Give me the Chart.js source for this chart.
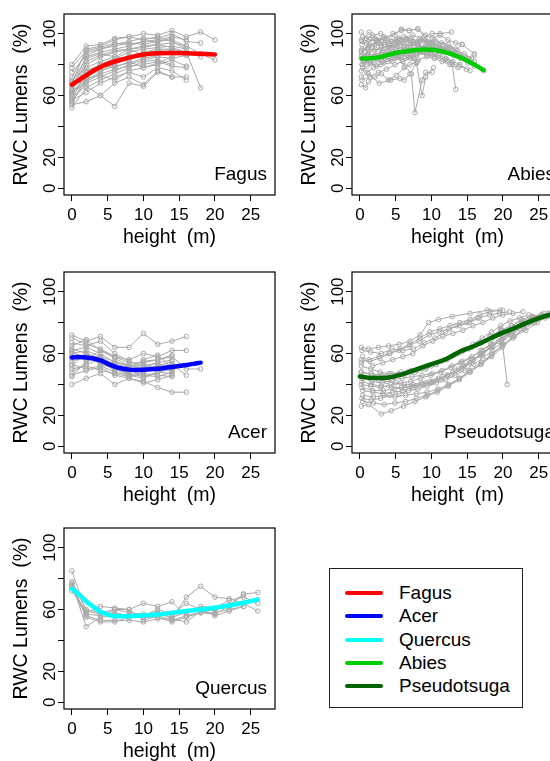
<!DOCTYPE html>
<html>
<head>
<meta charset="utf-8">
<script src="https://cdn.jsdelivr.net/npm/chart.js@4.4.1/dist/chart.umd.min.js"></script>
<style>
  html, body { margin: 0; padding: 0; background: #fff; }
  #page { position: relative; width: 550px; height: 761px; overflow: hidden; }
  #page canvas { position: absolute; }
  #legend {
    position: absolute; left: 329px; top: 568px; width: 194px; height: 140px;
    border: 1px solid #222; box-sizing: border-box;
    font-family: "Liberation Sans", Arial, sans-serif; font-size: 19px; color: #000;
  }
  .row { position: absolute; left: 0; height: 24px; line-height: 24px; white-space: nowrap; }
  .row .swatch { position: absolute; left: 15px; top: 10px; width: 38px; height: 4px; border-radius: 2px; }
  .row .name { position: absolute; left: 69px; }
</style>
</head>
<body>
<div id="page">
  <canvas id="fagus" width="288" height="258" style="left:0;top:0"></canvas>
  <canvas id="abies" width="288" height="258" style="left:288px;top:0"></canvas>
  <canvas id="acer" width="288" height="258" style="left:0;top:258px"></canvas>
  <canvas id="pseudotsuga" width="288" height="258" style="left:288px;top:258px"></canvas>
  <canvas id="quercus" width="288" height="258" style="left:0;top:514px"></canvas>
  <div id="legend"></div>
</div>
<script>
// shared axis ticks
const xTicks = [0, 5, 10, 15, 20, 25];
const yTicks = [0, 20, 40, 60, 80, 100];
const yTickLabels = ['0', '20', '', '60', '', '100'];

const legendNames = ['Fagus', 'Acer', 'Quercus', 'Abies', 'Pseudotsuga'];
const legendColors = ['#FF0000', '#0000FF', '#00FFFF', '#00CD00', '#006400'];

// Fagus: one profile per tree, sampled every 2 m
const fagusHeights = [0, 2, 4, 6, 8, 10, 12, 14, 16, 18, 20];
const fagusTrees = [
  [68, 90, 92, 96, 98, 100, 99, 102, 98, 101, 96],
  [72, 88, 90, 93, 95, 97, 97, 100, 95, 94],
  [65, 85, 88, 90, 92, 95, 95, 96, 92, 87, 83],
  [80, 92, 93, 97, 98, 96, 98, 95, 90],
  [62, 80, 85, 88, 90, 92, 93, 91, 88, 85],
  [58, 75, 80, 84, 88, 90, 91, 92, 90],
  [55, 72, 78, 80, 85, 88, 90, 90, 88, 65],
  [60, 70, 75, 82, 86, 85, 88, 89, 86],
  [52, 65, 70, 74, 78, 82, 83, 80],
  [64, 82, 86, 89, 90, 86, 88, 87, 87],
  [70, 78, 82, 85, 83, 87, 89, 90],
  [57, 62, 68, 72, 75, 72, 78, 76, 70],
  [54, 56, 60, 53, 68, 66, 75, 72, 72],
  [67, 76, 80, 78, 82, 78, 80, 83, 79],
  [75, 86, 90, 92, 94, 93, 95, 97],
  [63, 68, 72, 76, 80, 83, 85, 84, 86],
  [61, 73, 76, 79, 81, 84, 86, 88],
  [59, 66, 60, 68, 72, 67, 76, 72],
  [69, 84, 87, 85, 90, 91, 93, 94, 92],
  [78, 89, 91, 94, 93, 95, 96, 98, 96],
  [56, 69, 74, 77, 79, 80, 82, 79, 78],
  [62, 71, 73, 70, 76, 78, 81, 85]
];
const fagusFitH = [0, 1, 2, 3, 4, 5, 6, 7, 8, 9, 10, 12, 14, 16, 18, 20];
const fagusFitV = [67, 70, 73, 76, 78.5, 80.5, 82, 83.3, 84.5, 85.6, 86.5, 87.3, 87.5, 87.4, 87, 86.5];

// Abies: irregular sampling heights per tree
const abiesHeights = [
  [0.2, 1.1, 2.0, 3.0, 4.1, 5.0, 6.0, 7.0, 8.1, 9.0, 10.1, 11.0, 12.0, 13.0, 14.1, 15.0, 16.0, 17.3],
  [0.2, 0.9, 1.8, 2.9, 3.8, 4.9, 5.8, 6.9, 8.1, 9.0, 10.1, 11.2, 12.8],
  [0.3, 1.3, 2.3, 3.3, 4.4, 5.4, 6.4, 7.4, 8.4, 9.4, 10.4, 11.4, 12.4, 13.4, 14.3, 16.0],
  [0.2, 0.8, 1.2, 2.1, 3.0, 4.0, 5.1, 6.2, 7.0, 8.0],
  [0.4, 1.2, 2.7, 4.3, 5.6, 6.2, 7.0, 7.9],
  [0.3, 1.0, 2.0, 3.1, 4.2, 5.2, 6.3, 7.2, 7.7, 8.7, 9.2, 10.1],
  [0.2, 1.1, 2.2, 3.1, 4.0, 5.1, 6.1, 7.1, 7.9, 8.7, 9.2, 10.3],
  [0.5, 1.5, 2.5, 3.5, 4.5, 5.5, 6.5, 7.5, 8.5, 9.5, 10.5, 11.5, 12.2, 12.9, 13.4],
  [0.3, 1.3, 2.4, 3.4, 4.5, 5.5, 6.5, 7.5, 8.6, 9.6, 10.6, 11.6, 12.6, 13.6, 14.6, 15.6],
  [0.2, 1.0, 2.0, 3.0, 4.0, 5.0, 6.0, 7.0, 8.0, 9.0, 10.0, 11.0, 12.0, 13.0, 14.0, 15.4],
  [0.4, 1.4, 2.4, 3.5, 4.6, 5.8, 6.9, 8.1, 9.2, 10.1, 11.2, 12.3, 13.4, 14.3],
  [0.3, 1.2, 2.2, 3.2, 4.2, 5.2, 6.2, 7.2, 8.2, 9.2, 10.2, 11.2, 12.2, 13.2, 14.2, 15.2, 16.0],
  [0.2, 1.0, 1.9, 2.9, 3.9, 4.9, 5.9, 6.9, 7.9, 8.9, 9.9, 10.9, 11.9, 12.9, 13.9, 14.9],
  [0.3, 1.2, 2.1, 3.1, 4.1, 5.1, 6.1, 7.1, 8.1, 9.1, 10.1, 11.1, 12.1],
  [0.2, 1.1, 2.0, 3.0, 4.0, 5.0, 6.1, 7.1, 8.1, 9.1, 10.1, 11.1, 12.1, 13.1, 14.1, 15.1, 16.0],
  [0.4, 1.3, 2.3, 3.3, 4.3, 5.3, 6.3, 7.3, 8.3, 9.3],
  [0.2, 0.9, 1.7, 2.6, 3.5, 4.4, 5.3, 6.2, 7.1, 8.0, 8.9, 9.8, 10.7, 11.6, 12.5],
  [0.3, 1.4, 2.6, 3.7, 4.9, 6.0, 7.1, 8.2, 9.3, 10.4, 11.5, 12.6, 13.7],
  [0.2, 1.1, 2.1, 3.0, 3.9, 4.8, 5.7, 6.6, 7.5, 8.4, 9.3, 10.2, 11.1, 12.0, 12.9, 13.8, 14.7, 15.6],
  [0.5, 1.5, 2.5, 3.5, 4.5, 5.5, 6.5, 7.5, 8.5, 9.5, 10.5]
];
const abiesValues = [
  [88, 90, 89, 91, 92, 93, 94, 92, 93, 91, 92, 90, 89, 87, 86, 84, 82, 76],
  [101, 97, 99, 100, 97, 99, 103, 102, 103, 98, 100, 100, 101],
  [95, 101, 96, 98, 95, 97, 96, 99, 97, 95, 96, 94, 93, 90, 93, 87],
  [67, 65, 69, 72, 74, 70, 73, 78, 80, 82],
  [78, 74, 68, 70, 71, 70, 74, 81],
  [80, 83, 85, 82, 84, 86, 79, 74, 49, 70, 75, 75],
  [85, 87, 86, 88, 87, 89, 88, 86, 81, 60, 72, 78],
  [82, 84, 86, 85, 87, 88, 87, 89, 90, 88, 87, 85, 83, 80, 64],
  [90, 92, 94, 93, 95, 96, 97, 95, 96, 94, 95, 93, 91, 89, 87, 84],
  [76, 79, 81, 83, 85, 86, 87, 88, 87, 89, 88, 86, 84, 82, 80, 76],
  [98, 96, 95, 97, 100, 102, 102, 103, 99, 97, 99, 96, 94, 93],
  [86, 88, 90, 89, 91, 92, 90, 93, 92, 91, 93, 91, 90, 88, 85, 83, 86],
  [72, 75, 78, 80, 82, 84, 83, 85, 86, 88, 87, 85, 83, 81, 79, 77],
  [93, 95, 97, 96, 94, 96, 98, 97, 95, 96, 94, 92, 91],
  [84, 86, 85, 87, 89, 90, 91, 90, 92, 91, 90, 89, 88, 86, 84, 81, 79],
  [80, 82, 79, 81, 83, 85, 84, 86, 88, 87],
  [96, 94, 92, 95, 93, 91, 94, 92, 95, 93, 91, 94, 92, 90, 91],
  [70, 72, 75, 77, 80, 82, 84, 83, 85, 84, 82, 80, 78],
  [89, 91, 93, 92, 91, 93, 94, 96, 94, 95, 93, 92, 90, 91, 89, 87, 85, 82],
  [83, 81, 84, 86, 82, 85, 87, 84, 88, 86, 85]
];
const abiesFitH = [0.3, 1, 2, 3, 4, 5, 6, 7, 8, 9, 10, 11, 12, 13, 14, 15, 16, 17, 17.3];
const abiesFitV = [84, 84, 84.3, 85, 86.3, 87.5, 88.3, 89, 89.5, 89.7, 89.6, 89, 88, 86.5, 84.7, 82.5, 80, 77.3, 76.5];

// Acer: sampled every 2 m
const acerHeights = [0, 2, 4, 6, 8, 10, 12, 14, 16, 18];
const acerTrees = [
  [72, 68, 71, 64, 64, 73, 66, 68, 71],
  [65, 69, 62, 58, 56, 60, 58, 62, 62],
  [60, 62, 58, 55, 52, 55, 56, 58, 50, 50],
  [55, 58, 55, 50, 48, 50, 52, 53, 46],
  [62, 64, 60, 54, 52, 50, 52, 55],
  [48, 53, 56, 50, 47, 45, 48, 50],
  [45, 55, 58, 52, 49, 46, 45, 48],
  [40, 44, 47, 40, 44, 42, 38, 35, 35],
  [52, 60, 54, 50, 46, 48, 50, 52],
  [58, 56, 62, 57, 52, 51, 54, 50],
  [67, 65, 68, 60, 55, 52, 54, 56],
  [50, 52, 49, 47, 45, 47, 46, 45],
  [63, 60, 57, 53, 51, 53, 50, 49],
  [57, 59, 53, 50, 50, 49, 51, 53],
  [70, 66, 63, 58, 54, 54, 56, 59],
  [53, 50, 52, 48, 46, 44, 48, 47],
  [46, 49, 51, 46, 44, 41, 43, 46],
  [61, 57, 55, 49, 50, 56, 59, 51]
];
const acerFitH = [0, 1, 2, 3, 4, 5, 6, 7, 8, 9, 10, 11, 12, 13, 14, 15, 16, 17, 18];
const acerFitV = [57.5, 57.8, 57.5, 56.8, 55.5, 53.5, 51.5, 50.3, 49.6, 49.4, 49.5, 49.8, 50.2, 50.7, 51.3, 51.9, 52.6, 53.3, 54.1];

// Pseudotsuga: irregular sampling heights per tree
const pseudoHeights = [
  [0.2, 1.2, 2.6, 4.0, 5.5, 7.0, 8.4, 9.6, 11.0, 12.9, 15.4, 17.8, 20.0],
  [0.3, 1.5, 3.0, 4.5, 6.0, 7.5, 9.0, 10.5, 12.0, 13.5, 15.0, 16.5],
  [0.2, 1.4, 2.8, 4.2, 5.6, 7.0, 8.4, 9.8, 11.2, 12.6, 14.0, 15.4, 16.8, 18.2, 19.6],
  [0.4, 1.8, 3.2, 4.6, 6.0, 7.4, 8.8, 10.2, 11.6, 13.0, 14.4, 15.8, 17.2, 18.6, 20.0, 21.4, 22.8],
  [0.2, 1.6, 3.0, 4.4, 5.8, 7.2, 8.6, 10.0, 11.4, 12.8, 14.2, 15.6, 17.0, 18.4, 19.8, 21.2, 22.6, 24.0, 25.4, 26.8],
  [0.3, 1.7, 3.1, 4.5, 5.9, 7.3, 8.7, 10.1, 11.5, 12.9, 14.3, 15.7, 17.1, 18.5, 19.9, 21.3, 22.7, 24.1, 25.5, 26.9],
  [0.2, 1.5, 2.9, 4.3, 5.7, 7.1, 8.5, 9.9, 11.3, 12.7, 14.1, 15.5, 16.9, 18.3, 19.7, 20.6],
  [0.4, 1.8, 3.2, 4.6, 6.0, 7.4, 8.8, 10.2, 11.6, 13.0, 14.4, 15.8, 17.2, 18.6, 20.0, 21.4, 22.8, 24.2, 25.6],
  [0.2, 1.2, 3.0, 4.4, 6.1, 7.7, 9.2, 10.8, 12.3, 13.9, 15.4, 17.0, 18.5, 20.1, 21.6, 23.2, 24.8, 26.3],
  [0.3, 1.6, 2.9, 4.2, 5.5, 6.8, 8.1, 9.4, 10.7, 12.0, 13.3, 14.6, 15.9, 17.2, 18.5, 19.8, 21.1, 22.4, 23.7, 25.0, 26.3, 27.5],
  [0.2, 1.5, 2.8, 4.1, 5.4, 6.7, 8.0, 9.3, 10.6, 11.9, 13.2, 14.5, 15.8, 17.1, 18.4, 19.7, 21.0, 22.3, 23.6],
  [0.3, 1.8, 3.3, 4.8, 6.3, 7.8, 9.3, 10.8, 12.3, 13.8, 15.3, 16.8, 18.3, 19.8, 21.3, 22.8, 24.3],
  [0.2, 1.4, 2.6, 3.8, 5.0, 6.2, 7.4, 8.6, 9.8, 11.0, 12.2, 13.4, 14.6, 15.8, 17.0, 18.2, 19.4, 20.6, 21.8, 23.0, 24.2, 25.4, 26.6],
  [0.4, 1.9, 3.4, 4.9, 6.4, 7.9, 9.4, 10.9, 12.4, 13.9, 15.4, 16.9, 18.4, 19.9, 21.4, 22.9, 24.4, 25.9, 27.4],
  [0.2, 1.3, 2.7, 4.1, 5.5, 6.9, 8.3, 9.7, 11.1, 12.5, 13.9, 15.3, 16.7, 18.1, 19.5, 20.9],
  [0.3, 1.6, 3.0, 4.4, 5.8, 7.2, 8.6, 10.0, 11.4, 12.8, 14.2, 15.6, 17.0, 18.4, 19.8, 21.2, 22.6, 24.0, 25.4, 26.8],
  [0.2, 1.7, 3.2, 4.7, 6.2, 7.7, 9.2, 10.7, 12.2, 13.7, 15.2, 16.7, 18.2, 19.7, 21.2, 22.7, 24.2, 25.7],
  [0.4, 1.9, 3.4, 4.9, 6.4, 7.9, 9.4, 10.9, 12.4, 13.9, 15.4, 16.9, 18.4, 19.9, 21.4, 22.9, 24.4, 25.9, 27.4]
];
const pseudoValues = [
  [64, 63, 64, 65, 66, 68, 72, 80, 82, 84, 86, 88, 88],
  [62, 61, 60, 63, 62, 63, 67, 70, 74, 78, 80, 83],
  [56, 55, 57, 60, 63, 66, 70, 74, 76, 78, 80, 82, 85, 87, 88],
  [58, 52, 54, 56, 58, 60, 65, 68, 71, 73, 75, 78, 80, 83, 85, 86, 87],
  [48, 47, 46, 47, 48, 49, 50, 52, 55, 58, 61, 64, 67, 71, 75, 78, 82, 84, 85, 86],
  [44, 42, 41, 43, 44, 45, 46, 47, 49, 52, 55, 58, 62, 66, 70, 75, 80, 83, 85, 87],
  [40, 39, 38, 40, 41, 42, 44, 46, 48, 51, 54, 57, 62, 66, 76, 40],
  [36, 35, 34, 35, 36, 38, 40, 42, 45, 48, 52, 56, 60, 65, 70, 74, 78, 82, 84],
  [26, 27, 21, 23, 26, 29, 32, 35, 39, 44, 49, 54, 60, 66, 71, 75, 80, 84],
  [31, 30, 31, 33, 34, 36, 37, 39, 41, 43, 46, 49, 53, 57, 62, 67, 72, 76, 80, 83, 86, 88],
  [52, 50, 48, 47, 47, 48, 49, 51, 53, 56, 59, 62, 66, 70, 74, 78, 81, 83, 85],
  [38, 36, 36, 37, 38, 39, 41, 43, 46, 50, 54, 59, 64, 69, 74, 79, 82],
  [46, 44, 43, 42, 41, 40, 40, 41, 42, 44, 46, 49, 52, 56, 60, 64, 68, 72, 76, 79, 82, 84, 86],
  [33, 32, 33, 32, 33, 34, 35, 37, 40, 44, 48, 53, 58, 64, 70, 76, 80, 83, 85],
  [54, 56, 58, 60, 62, 65, 68, 72, 74, 76, 78, 80, 83, 85, 86, 87],
  [42, 40, 39, 38, 38, 39, 40, 41, 43, 46, 50, 54, 59, 64, 69, 74, 79, 82, 84, 86],
  [48, 46, 45, 45, 46, 48, 50, 53, 56, 60, 63, 67, 71, 75, 78, 81, 84, 86],
  [29, 28, 27, 28, 29, 31, 33, 36, 39, 43, 48, 53, 59, 65, 71, 76, 80, 84, 86]
];
const pseudoFitH = [0, 2, 4, 6, 8, 10, 12, 14, 16, 18, 20, 22, 24, 26, 27.5];
const pseudoFitV = [45.2, 44.1, 44.5, 46.7, 49.9, 53.1, 56.3, 61.3, 64.9, 69.2, 73.5, 77.2, 81.1, 84.3, 86];

// Quercus: sampled every 2 m
const quercusHeights = [0, 2, 4, 6, 8, 10, 12, 14, 16, 18, 20, 22, 24, 26];
const quercusTrees = [
  [85, 58, 62, 61, 60, 64, 62, 65, 56, 58, 60, 62, 70, 71],
  [77, 49, 55, 56, 56, 55, 58, 54, 68, 75, 68, 67, 64, 59],
  [76, 57, 56, 60, 60, 53, 56, 53, 56, 58, 58, 60, 62],
  [75, 56, 53, 53, 53, 52, 54, 54, 52, 59, 60, 63, 70],
  [72, 59, 57, 58, 56, 56, 60, 57, 64, 60, 56, 59, 62],
  [74, 55, 52, 52, 55, 55, 55, 52, 55, 58, 57, 62],
  [78, 60, 58, 60, 58, 57, 58, 55, 58, 62, 61, 66, 68, 64]
];
const quercusFitH = [0, 1, 2, 3, 4, 5, 6, 8, 10, 12, 14, 16, 18, 20, 22, 24, 26];
const quercusFitV = [73.4, 69.8, 65.4, 61.8, 58.5, 56.8, 55.7, 55.7, 56.2, 56.8, 57.9, 59, 60, 61.1, 62.6, 64.4, 66.5];

const grey = '#A9A9A9';
const fontFamily = '"Liberation Sans", Arial, Helvetica, sans-serif';
Chart.defaults.font.family = fontFamily;
Chart.defaults.color = '#000';

// box around the plot region plus the species name in the bottom-right corner
const framePlugin = {
  id: 'frame',
  afterDatasetsDraw(chart, args, opts) {
    const { ctx, chartArea: a } = chart;
    ctx.save();
    ctx.strokeStyle = '#000';
    ctx.lineWidth = 1.2;
    ctx.strokeRect(a.left, a.top, a.right - a.left, a.bottom - a.top);
    ctx.font = '19px ' + fontFamily;
    ctx.fillStyle = '#000';
    ctx.textAlign = 'right';
    ctx.textBaseline = 'alphabetic';
    ctx.fillText(opts.name, a.right - 8, a.bottom - 15.5);
    ctx.restore();
  }
};

function drawPanel(id, treeH, treeV, fitH, fitV, color, name) {
  const datasets = [{
    data: fitH.map((h, i) => ({ x: h, y: fitV[i] })),
    borderColor: color,
    borderWidth: 4.5,
    borderCapStyle: 'round',
    pointRadius: 0,
    cubicInterpolationMode: 'monotone'
  }];
  treeV.forEach((vals, t) => {
    const hs = Array.isArray(treeH[0]) ? treeH[t] : treeH;
    datasets.push({
      data: vals.map((v, i) => ({ x: hs[i], y: v })),
      borderColor: grey,
      borderWidth: 1,
      pointRadius: 2.3,
      pointBorderWidth: 1,
      pointBorderColor: grey,
      pointBackgroundColor: 'rgba(255,255,255,0)'
    });
  });

  const grid = { drawOnChartArea: false, drawTicks: true, tickLength: 6, color: '#000', lineWidth: 1 };

  new Chart(document.getElementById(id), {
    type: 'line',
    data: { datasets },
    options: {
      responsive: false,
      animation: false,
      devicePixelRatio: 1,
      layout: { padding: { top: 14, right: 13, left: 0, bottom: 0 } },
      plugins: { legend: { display: false }, tooltip: { enabled: false }, frame: { name } },
      scales: {
        x: {
          type: 'linear', min: -1.1, max: 28.4,
          afterBuildTicks: s => { s.ticks = xTicks.map(v => ({ value: v })); },
          afterFit: s => { s.height = 63; },
          grid,
          border: { display: false },
          ticks: { font: { size: 17 }, color: '#000', padding: 4, maxRotation: 0, autoSkip: false },
          title: { display: true, text: 'height  (m)', font: { size: 19.5 }, color: '#000', padding: { top: 0, bottom: 8.8 } }
        },
        y: {
          type: 'linear', min: -4.3, max: 112.7,
          afterBuildTicks: s => { s.ticks = yTicks.map(v => ({ value: v })); },
          afterFit: s => { s.width = 64; },
          grid,
          border: { display: false },
          ticks: {
            font: { size: 17 }, color: '#000', padding: -6.2,
            minRotation: 90, maxRotation: 90, crossAlign: 'center', autoSkip: false,
            callback: (v, i) => yTickLabels[i]
          },
          title: { display: true, text: 'RWC Lumens  (%)', font: { size: 19.5 }, color: '#000', padding: { top: 9.6, bottom: 0 } }
        }
      }
    },
    plugins: [framePlugin]
  });
}

drawPanel('fagus', fagusHeights, fagusTrees, fagusFitH, fagusFitV, legendColors[0], 'Fagus');
drawPanel('abies', abiesHeights, abiesValues, abiesFitH, abiesFitV, legendColors[3], 'Abies');
drawPanel('acer', acerHeights, acerTrees, acerFitH, acerFitV, legendColors[1], 'Acer');
drawPanel('pseudotsuga', pseudoHeights, pseudoValues, pseudoFitH, pseudoFitV, legendColors[4], 'Pseudotsuga');
drawPanel('quercus', quercusHeights, quercusTrees, quercusFitH, quercusFitV, legendColors[2], 'Quercus');

// legend box
const legend = document.getElementById('legend');
legendNames.forEach((n, i) => {
  const row = document.createElement('div');
  row.className = 'row';
  row.style.top = (12 + i * 23.3) + 'px';
  row.innerHTML = '<span class="swatch" style="background:' + legendColors[i] + '"></span><span class="name">' + n + '</span>';
  legend.appendChild(row);
});
</script>
</body>
</html>
